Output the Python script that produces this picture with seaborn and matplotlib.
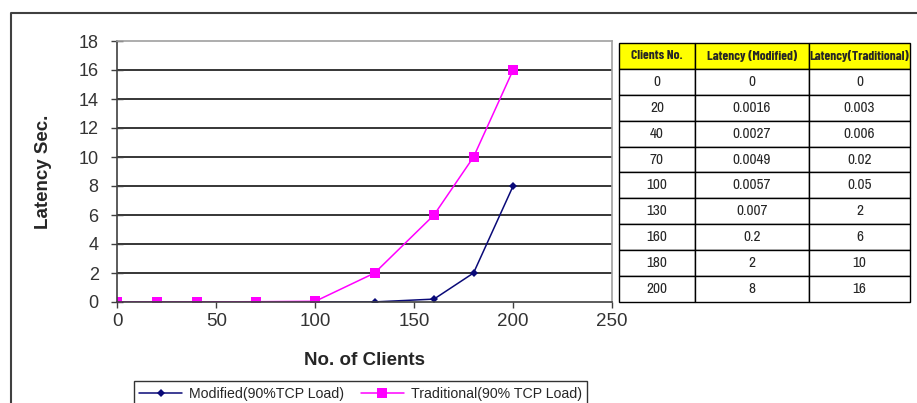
import pandas as pd
import numpy as np
import matplotlib
matplotlib.use('Agg')
import matplotlib.pyplot as plt
import seaborn as sns
from matplotlib.lines import Line2D

clients = [0, 20, 40, 70, 100, 130, 160, 180, 200]
latency_modified = [0, 0.0016, 0.0027, 0.0049, 0.0057, 0.007, 0.2, 2, 8]
latency_traditional = [0, 0.003, 0.006, 0.02, 0.05, 2, 6, 10, 16]
table_header = ['Clients No.', 'Latency (Modified)', 'Latency(Traditional)']
table_modified = ['0', '0.0016', '0.0027', '0.0049', '0.0057', '0.007', '0.2', '2', '8']
table_traditional = ['0', '0.003', '0.006', '0.02', '0.05', '2', '6', '10', '16']

sns.set_style('white')
plt.rcParams['font.family'] = ['Liberation Sans', 'DejaVu Sans']
narrow = ['Liberation Sans Narrow', 'Archivo Narrow', 'Liberation Sans', 'DejaVu Sans']
narrow_bold = ['Barlow Condensed', 'Liberation Sans Narrow', 'Liberation Sans', 'DejaVu Sans']

df = pd.DataFrame({
    'clients': clients * 2,
    'latency': latency_modified + latency_traditional,
    'series': ['Modified(90%TCP Load)'] * len(clients) + ['Traditional(90% TCP Load)'] * len(clients),
})

fig = plt.figure(figsize=(9.17, 4.03), dpi=100)
W, H = 917, 403
ax = fig.add_axes([117.5 / W, 1 - 302 / H, (612 - 117.5) / W, (302 - 41) / H])

palette = {'Modified(90%TCP Load)': '#0a0a78', 'Traditional(90% TCP Load)': '#ff00ff'}
markers = {'Modified(90%TCP Load)': 'D', 'Traditional(90% TCP Load)': 's'}
sizes = {'Modified(90%TCP Load)': 4.5, 'Traditional(90% TCP Load)': 7}
for name in palette:
    sub = df[df['series'] == name]
    sns.lineplot(data=sub, x='clients', y='latency', ax=ax, color=palette[name],
                 marker=markers[name], markersize=sizes[name], markeredgewidth=0,
                 linewidth=1.1, label=name, legend=False)

ax.set_xlim(0, 250)
ax.set_ylim(0, 18)
ax.set_xticks(range(0, 251, 50))
ax.set_yticks(range(0, 19, 2))
for y in range(2, 18, 2):
    ax.axhline(y, color='black', linewidth=1.1, zorder=0)

for s in ['top', 'right']:
    ax.spines[s].set_color('#a0a0a0')
    ax.spines[s].set_linewidth(1.2)
for s in ['left', 'bottom']:
    ax.spines[s].set_color('#404040')
    ax.spines[s].set_linewidth(1.2)

ax.tick_params(axis='y', direction='inout', length=9, width=1, color='#404040',
               labelsize=13, labelcolor='#333333', pad=9, left=True)
ax.tick_params(axis='x', direction='out', length=4, width=1, color='#404040',
               labelsize=13.5, labelcolor='#333333', pad=4, bottom=True)
ax.set_xlabel('No. of Clients', fontsize=13.5, fontweight='bold', labelpad=16)
ax.set_ylabel('Latency Sec.', fontsize=13.5, fontweight='bold', labelpad=19)

handles = [Line2D([], [], color=palette[n], marker=markers[n], markersize=sizes[n],
                  markeredgewidth=0, linewidth=1.1) for n in palette]
leg = fig.legend(handles, list(palette), loc='upper center', ncol=2,
                 bbox_to_anchor=(360.5 / W, 1 - 381 / H), frameon=True, fancybox=False,
                 fontsize=10.2, handlelength=3, columnspacing=1.2, borderpad=0.4,
                 handletextpad=0.5, borderaxespad=0)
leg.get_frame().set_edgecolor('black')
leg.get_frame().set_linewidth(1)

# data table on the right
tax = fig.add_axes([619 / W, 1 - 302 / H, (910 - 619) / W, (302 - 43) / H])
tax.axis('off')
cells = [[str(c), m, t] for c, m, t in zip(clients, table_modified, table_traditional)]
tbl = tax.table(cellText=cells, colLabels=table_header, bbox=[0, 0, 1, 1],
                colWidths=[76, 114, 101], cellLoc='center')
tbl.auto_set_font_size(False)
for (r, c), cell in tbl.get_celld().items():
    cell.set_edgecolor('black')
    cell.set_linewidth(1)
    txt = cell.get_text()
    if r == 0:
        cell.set_facecolor('#ffff00')
        txt.set_family(narrow_bold)
        txt.set_fontweight('bold')
        txt.set_fontsize(9.6)
    else:
        txt.set_family(narrow)
        txt.set_fontsize(11)

# outer chart frame (left and top edges)
fig.add_artist(Line2D([11 / W, 11 / W, 1], [0, 1 - 13 / H, 1 - 13 / H],
                      transform=fig.transFigure, color='#404040', linewidth=1.5))

fig.savefig('out.png', dpi=100)
